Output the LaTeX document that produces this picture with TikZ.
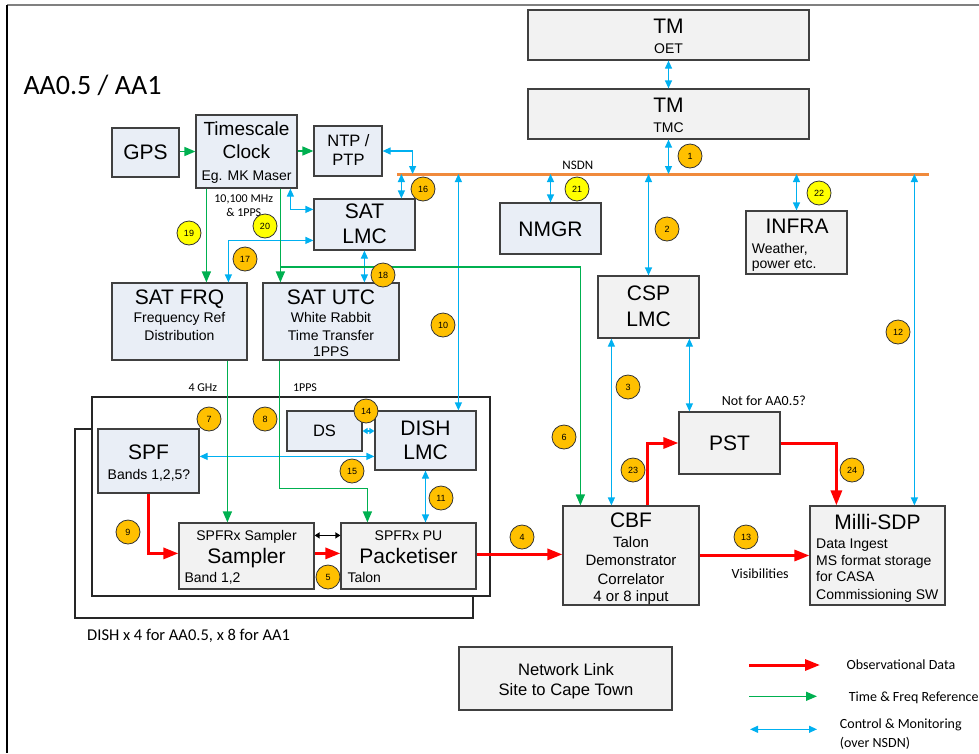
\documentclass[tikz,border=0pt]{standalone}
\usepackage{fontspec}
\setmainfont{Liberation Sans}
\newfontfamily\calibfont{Carlito}
\usetikzlibrary{arrows.meta}
\definecolor{cblue}{HTML}{00B0F0}
\definecolor{cgreen}{HTML}{00B050}
\definecolor{cred}{HTML}{FF0000}
\definecolor{corange}{HTML}{F08A3C}
\definecolor{cbadge}{HTML}{FFC000}
\definecolor{cyellow}{HTML}{FFFF00}
\definecolor{boxblue}{HTML}{E9EEF6}
\definecolor{boxgray}{HTML}{F2F2F2}
\newcommand\myfs[1]{\fontsize{#1}{#1}\selectfont}
\begin{document}
\begin{tikzpicture}[x=1pt,y=-1pt,
  box/.style={draw=black!75, line width=1.2pt, inner sep=0pt},
  bbox/.style={box, fill=boxblue},
  gbox/.style={box, fill=boxgray},
  blueA/.style={draw=cblue, line width=1.2pt, {Triangle[length=8pt,width=7pt]}-{Triangle[length=8pt,width=7pt]}},
  blueS/.style={draw=cblue, line width=1.2pt, {Triangle[length=5pt,width=6pt]}-{Triangle[length=5pt,width=6pt]}},
  blackS/.style={draw=black, line width=1.2pt, {Triangle[length=5pt,width=6pt]}-{Triangle[length=5pt,width=6pt]}},
  greenA/.style={draw=cgreen, line width=1.5pt, -{Triangle[length=11pt,width=9pt]}},
  redA/.style={draw=cred, line width=3pt, -{Triangle[length=15pt,width=11pt]}},
  tL/.style={anchor=base, inner sep=0pt, font=\myfs{21}},
  tT/.style={anchor=base, inner sep=0pt, font=\myfs{19}},
  tK/.style={anchor=base, inner sep=0pt, font=\myfs{16.5}},
  tN/.style={anchor=base, inner sep=0pt, font=\myfs{16.6}},
  tM/.style={anchor=base, inner sep=0pt, font=\myfs{15}},
  tS/.style={anchor=base, inner sep=0pt, font=\myfs{14}},
  cS/.style={anchor=base, inner sep=0pt, font=\calibfont\myfs{12}},
  cM/.style={anchor=base, inner sep=0pt, font=\calibfont\myfs{13}},
  cL/.style={anchor=base, inner sep=0pt, font=\calibfont\myfs{14}},
  badge/.style={circle, draw=black!80, line width=0.8pt, fill=cbadge, minimum size=24pt, inner sep=0pt, font=\myfs{9}},
  ybadge/.style={badge, fill=cyellow}]
\useasboundingbox (0,0) rectangle (979,753);
% page frame
\draw[draw=gray, line width=2pt] (7,5) -- (979,5);
\draw[draw=black, line width=1.2pt] (7,5) -- (7,753);

% dish frames
\draw[draw=black!85, line width=1.2pt] (92,429) -- (75,429) -- (75,618) -- (473,618) -- (473,596);
\draw[draw=black!85, line width=1.2pt] (92,397) rectangle (490,596);

% boxes
\node[gbox, minimum width=281, minimum height=50] (tmoet) at (668.5,35) {};
\node[gbox, minimum width=281, minimum height=50] (tmtmc) at (668.5,114) {};
\node[bbox, minimum width=67, minimum height=49] (gps) at (145.5,152.5) {};
\node[bbox, minimum width=101, minimum height=73] (clk) at (246.5,151.5) {};
\node[bbox, minimum width=68, minimum height=50] (ntp) at (348,151) {};
\node[bbox, minimum width=101, minimum height=51] (satlmc) at (364.5,224.5) {};
\node[bbox, minimum width=101, minimum height=51] (nmgr) at (550.5,228.5) {};
\node[gbox, minimum width=101, minimum height=63] (infra) at (796.5,242.5) {};
\node[gbox, minimum width=101, minimum height=62] (csplmc) at (648.5,307) {};
\node[bbox, minimum width=135, minimum height=77] (satfrq) at (179.5,321.5) {};
\node[bbox, minimum width=136, minimum height=77] (satutc) at (331,321.5) {};
\node[bbox, minimum width=101, minimum height=64] (spf) at (148.5,461) {};
\node[bbox, minimum width=75, minimum height=40] (ds) at (324.5,431) {};
\node[bbox, minimum width=101, minimum height=59] (dishlmc) at (425.5,440.5) {};
\node[gbox, minimum width=135, minimum height=66] (samp) at (246.5,556) {};
\node[gbox, minimum width=135, minimum height=66] (pack) at (408.5,556) {};
\node[gbox, minimum width=136, minimum height=99] (cbf) at (631,555.5) {};
\node[gbox, minimum width=101, minimum height=62] (pst) at (729.5,443) {};
\node[gbox, minimum width=135, minimum height=99] (msdp) at (877.5,555.5) {};
\node[gbox, minimum width=213, minimum height=63] (net) at (565.5,678.5) {};

% NSDN bus
\coordinate (nsdnL) at (397,174);
\coordinate (nsdnR) at (929,174);
\draw[draw=corange, line width=3pt] (nsdnL) -- (nsdnR);

% control & monitoring (blue)
\draw[blueA] (tmoet.south) -- (tmtmc.north);
\draw[blueA] (tmtmc.south) -- (tmtmc.south |- nsdnL);
\draw[blueA] (nmgr.north) -- (nmgr.north |- nsdnL);
\draw[blueA] (csplmc.north) -- (csplmc.north |- nsdnL);
\draw[blueA] (infra.north) -- (infra.north |- nsdnL);
\draw[blueA] ([xshift=105pt]msdp.north west) -- ([xshift=105pt]msdp.north west |- nsdnL);
\draw[blueA] ([xshift=88pt]satlmc.north west) -- ([xshift=88pt]satlmc.north west |- nsdnL);
\draw[blueA] (ntp.east) -| ([xshift=30pt]ntp.east |- nsdnL);
\draw[blueA] ([xshift=84pt]dishlmc.north west) -- ([xshift=84pt]dishlmc.north west |- nsdnL);
\draw[blueA] ([xshift=95pt]clk.south west) |- ([yshift=-11pt]satlmc.north west);
\draw[blueA] ([yshift=-42pt]satlmc.north west) -| ([xshift=117pt]satfrq.north west);
\draw[blueA] ([xshift=51pt]satlmc.south west) -- ([xshift=51pt]satlmc.south west |- satutc.north);
\draw[blueA] ([yshift=-46pt]dishlmc.north west) -- ([yshift=-46pt]dishlmc.north west -| spf.east);
\draw[blueS] (ds.east) -- (ds.east -| dishlmc.west);
\draw[blueA] (dishlmc.south) -- (dishlmc.south |- pack.north);
\draw[blueA] ([xshift=14pt]csplmc.south west) -- ([xshift=14pt]csplmc.south west |- cbf.north);
\draw[blueA] ([xshift=92pt]csplmc.south west) -- ([xshift=92pt]csplmc.south west |- pst.north);
\draw[blackS] ([yshift=-13pt]samp.north east) -- ([yshift=-13pt]pack.north west);

% time & frequency (green)
\draw[greenA] (gps.east |- clk.west) -- (clk.west);
\draw[greenA] (clk.east |- ntp.west) -- (ntp.west);
\draw[greenA] ([xshift=11pt]clk.south west) -- ([xshift=11pt]clk.south west |- satfrq.north);
\draw[greenA] ([xshift=85pt]clk.south west) -- ([xshift=85pt]clk.south west |- satutc.north);
\coordinate (gbr) at (281,267);
\draw[greenA] (gbr) -| ([xshift=18pt]cbf.north west);
\draw[greenA] ([xshift=116pt]satfrq.south west) -- ([xshift=116pt]satfrq.south west |- samp.north);
\draw[greenA] ([xshift=17pt]satutc.south west) -- ++(0,128) -| ([xshift=27pt]pack.north west);

% observational data (red)
\draw[redA] ([xshift=51pt]spf.south west) |- ([yshift=-31pt]samp.north west);
\draw[redA] ([yshift=-31pt]samp.north east) -- ([yshift=-31pt]samp.north east -| pack.west);
\draw[redA] ([yshift=-32pt]pack.north east) -- ([yshift=-32pt]pack.north east -| cbf.west);
\draw[redA] (cbf.east) -- (msdp.west);
\draw[redA] ([xshift=85pt]cbf.north west) |- (pst.west);
\draw[redA] (pst.east) -| ([xshift=27pt]msdp.north west);

% legend
\coordinate (lr1) at (749,665); \coordinate (lr2) at (820,665);
\coordinate (lg1) at (749,696.3); \coordinate (lg2) at (817,696.3);
\coordinate (lb1) at (750,729.3); \coordinate (lb2) at (817,729.3);
\draw[redA] (lr1) -- (lr2);
\draw[greenA] (lg1) -- (lg2);
\draw[blueA] (lb1) -- (lb2);
\node[cL, anchor=base west] (lt1) at (846.3,669) {Observational Data};
\node[cL, anchor=base west] (lt2) at (848.7,701.7) {Time \& Freq Reference};
\node[cL, anchor=base west] (lt3) at (839.7,728.3) {Control \& Monitoring};
\node[cL, anchor=base west] (lt4) at (839.7,747) {(over NSDN)};

% box texts
\node[tL] (t1) at (668.5,33.3) {TM};
\node[tS] (t2) at (668.5,53.3) {OET};
\node[tL] (t3) at (668.5,112.7) {TM};
\node[tS] (t4) at (668.5,132.3) {TMC};
\node[tL] (t5) at (145.5,159) {GPS};
\node[tT] (t6) at (246.5,135) {Timescale};
\node[tT] (t7) at (246.5,158.3) {Clock};
\node[tS] (t8) at (246.5,180) {Eg. MK Maser};
\node[tK] (t9) at (348.5,146.7) {NTP /};
\node[tK] (t10) at (348.5,165.7) {PTP};
\node[tL] (t11) at (364.5,218.3) {SAT};
\node[tL] (t12) at (364.5,243.3) {LMC};
\node[tL] (t13) at (550.5,236) {NMGR};
\node[tL] (t14) at (797,233.3) {INFRA};
\node[tS, anchor=base west] (t15) at (751.7,253.3) {Weather,};
\node[tS, anchor=base west] (t16) at (751.7,268.7) {power etc.};
\node[tL] (t17) at (648.5,300.7) {CSP};
\node[tL] (t18) at (648.5,326.7) {LMC};
\node[tL] (t19) at (179.5,304) {SAT FRQ};
\node[tS] (t20) at (179.5,322.7) {Frequency Ref};
\node[tS] (t21) at (179.5,340) {Distribution};
\node[tL] (t22) at (331,304) {SAT UTC};
\node[tS] (t23) at (331,322.7) {White Rabbit};
\node[tS] (t24) at (331,340) {Time Transfer};
\node[tS] (t25) at (331,356.7) {1PPS};
\node[tL] (t26) at (148.5,459) {SPF};
\node[tS] (t27) at (149,479) {Bands 1,2,5?};
\node[tK] (t28) at (324.5,436.7) {DS};
\node[tL] (t29) at (425.5,435) {DISH};
\node[tL] (t30) at (425.5,459.5) {LMC};
\node[tS] (t31) at (246.5,540.5) {SPFRx Sampler};
\node[tL] (t32) at (246.5,563) {Sampler};
\node[tS, anchor=base west] (t33) at (184.3,582.7) {Band 1,2};
\node[tS] (t34) at (408.5,540.5) {SPFRx PU};
\node[tL] (t35) at (408.5,563) {Packetiser};
\node[tS, anchor=base west] (t36) at (347.3,582.7) {Talon};
\node[tL] (t37) at (631,527.7) {CBF};
\node[tM] (t38) at (631,547.7) {Talon};
\node[tM] (t39) at (631,565.7) {Demonstrator};
\node[tM] (t40) at (631,584) {Correlator};
\node[tM] (t41) at (631,601.5) {4 or 8 input};
\node[tL] (t42) at (729.5,450.7) {PST};
\node[tL] (t43) at (877.5,529.3) {Milli-SDP};
\node[tS, anchor=base west] (t44) at (816,548) {Data Ingest};
\node[tS, anchor=base west] (t45) at (816,565) {MS format storage};
\node[tS, anchor=base west] (t46) at (816,581.7) {for CASA};
\node[tS, anchor=base west] (t47) at (816,599) {Commissioning SW};
\node[tN] (t48) at (566,675.7) {Network Link};
\node[tN] (t49) at (566,695.2) {Site to Cape Town};

% free labels
\node[cM] (l1) at (577.8,169) {NSDN};
\node[cS] (l2) at (243.7,202.5) {10,100 MHz};
\node[cS] (l3) at (243.8,216) {\& 1PPS};
\node[cS] (l4) at (202.8,391.7) {4 GHz};
\node[cS] (l5) at (305,391.7) {1PPS};
\node[cL] (l6) at (763.8,405.7) {Not for AA0.5?};
\node[cL] (l7) at (760.2,578.3) {Visibilities};
\node[anchor=base west, inner sep=0pt, font=\calibfont\myfs{28}] (l8) at (23.3,94.3) {AA0.5 / AA1};
\node[anchor=base west, inner sep=0pt, font=\calibfont\myfs{16.5}] (l9) at (87,640.7) {DISH x 4 for AA0.5, x 8 for AA1};

% badges
\node[badge] (b1) at (690,156) {1};
\node[badge] (b2) at (667,229) {2};
\node[badge] (b3) at (628,387) {3};
\node[badge] (b4) at (522,537) {4};
\node[badge] (b5) at (328,577) {5};
\node[badge] (b6) at (564,437) {6};
\node[badge] (b7) at (209,419) {7};
\node[badge] (b8) at (265,419) {8};
\node[badge] (b9) at (128,532) {9};
\node[badge] (b10) at (443,325) {10};
\node[badge] (b11) at (441,498) {11};
\node[badge] (b12) at (898,332) {12};
\node[badge] (b13) at (746,537) {13};
\node[badge] (b14) at (366,411) {14};
\node[badge] (b15) at (352,471) {15};
\node[badge] (b16) at (423,189) {16};
\node[badge] (b17) at (245,259) {17};
\node[badge] (b18) at (383,275) {18};
\node[ybadge] (b19) at (189,233) {19};
\node[ybadge] (b20) at (265,226) {20};
\node[ybadge] (b21) at (577,189) {21};
\node[ybadge] (b22) at (819,193) {22};
\node[badge] (b23) at (633,470) {23};
\node[badge] (b24) at (852,470) {24};
\end{tikzpicture}
\end{document}
